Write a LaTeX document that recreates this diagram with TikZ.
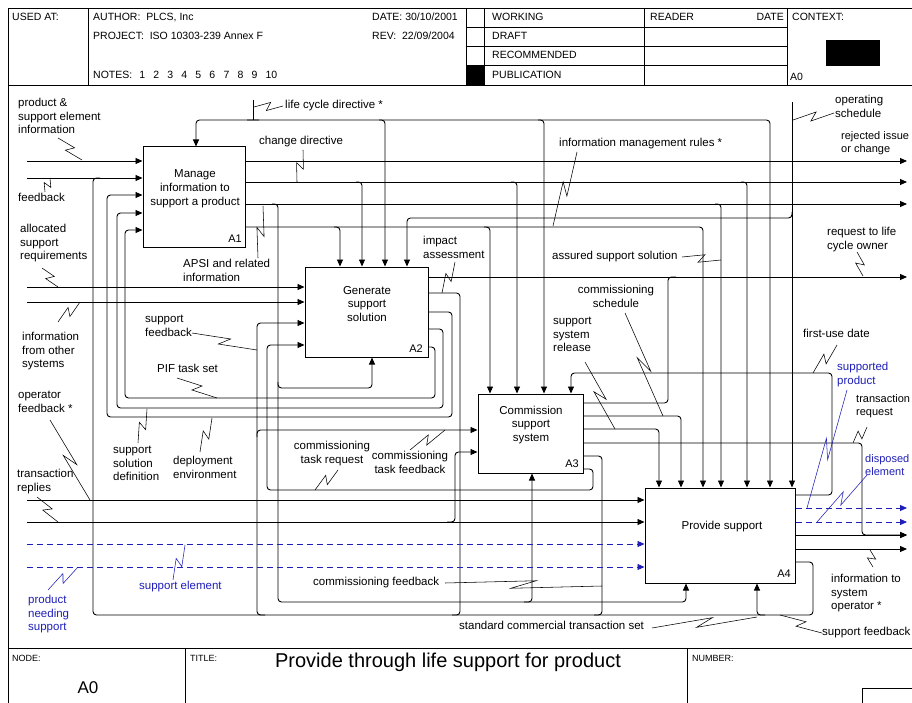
\documentclass[tikz,border=0pt]{standalone}
\usepackage{fontspec}
\setmainfont{Liberation Sans}
\usetikzlibrary{arrows.meta,calc}
\definecolor{idefblue}{rgb}{0.12,0.12,0.72}
\newcommand\sqz[3][black]{\draw[squig,draw=#1] (#2) -- ($(#2)!0.58!(#3)!4pt!90:(#3)$) -- ($(#2)!0.42!(#3)!4pt!-90:(#3)$) -- (#3);}
\begin{document}
\begin{tikzpicture}[x=1pt,y=-1pt,
  frame/.style={line width=0.9pt},
  box/.style={draw, line width=1pt, inner sep=0pt, fill=white},
  flow/.style={draw, line width=0.9pt, rounded corners=3.5pt},
  arr/.style={flow, -{Triangle[length=7pt,width=6pt]}},
  bflow/.style={draw=idefblue, line width=0.9pt, dash pattern=on 6pt off 4pt},
  barr/.style={bflow, -{Triangle[length=7pt,width=6pt,fill=idefblue]}},
  squig/.style={line width=0.55pt},
  lbl/.style={font=\fontsize{11.5}{13.6}\selectfont, align=left, inner sep=0pt, anchor=north west},
  clbl/.style={lbl, align=center, anchor=north},
  blbl/.style={lbl, text=idefblue},
  hdr/.style={font=\fontsize{10.5}{12}\selectfont, inner sep=0pt, anchor=base west},
  ftr/.style={font=\fontsize{9}{11}\selectfont, inner sep=0pt, anchor=base west},
  boxtxt/.style={font=\fontsize{11.5}{13.8}\selectfont, align=center, inner sep=0pt},
  boxid/.style={font=\fontsize{11}{13}\selectfont, inner sep=0pt}
]
\useasboundingbox (0,0) rectangle (912,703);
\fill[white] (0,0) rectangle (912,703);
% ---------- frame ----------
\draw[frame] (8,706) -- (8,8) -- (915,8);
\draw[frame] (8,85) -- (915,85);
\draw[frame] (8,648) -- (915,648);
\foreach \x in {88,466,484,644,787} \draw[frame] (\x,8) -- (\x,85);
\foreach \y in {27,46,65} \draw[frame] (466,\y) -- (787,\y);
\fill (466,65) rectangle (484,85);
\fill (826,40) rectangle (880,66);
\draw[frame] (185,648) -- (185,706);
\draw[frame] (687,648) -- (687,706);
\draw[frame] (862,706) -- (862,688) -- (915,688);
% ---------- header text ----------
\node[hdr] (h1) at (12,21) {USED AT:};
\node[hdr] (h2) at (93,21) {AUTHOR:\ \ PLCS, Inc};
\node[hdr] (h3) at (93,40) {PROJECT:\ \ ISO 10303-239 Annex F};
\node[hdr] (h4) at (93,79) {NOTES:\hspace{7pt}1\hspace{8.2pt}2\hspace{8.2pt}3\hspace{8.2pt}4\hspace{8.2pt}5\hspace{8.2pt}6\hspace{8.2pt}7\hspace{8.2pt}8\hspace{8.2pt}9\hspace{8.2pt}10};
\node[hdr] (h5) at (372,21) {DATE: 30/10/2001};
\node[hdr] (h6) at (372,40) {REV:\ \ 22/09/2004};
\node[hdr] (h7) at (492,21) {WORKING};
\node[hdr] (h8) at (492,40) {DRAFT};
\node[hdr] (h9) at (492,59) {RECOMMENDED};
\node[hdr] (h10) at (492,79) {PUBLICATION};
\node[hdr] (h11) at (650,21) {READER};
\node[hdr, anchor=base east] (h12) at (784,21) {DATE};
\node[hdr] (h13) at (792,21) {CONTEXT:};
\node[hdr] (h14) at (790,81) {A0};
% ---------- footer text ----------
\node[ftr] (f1) at (12,661) {NODE:};
\node[ftr] (f2) at (190,661) {TITLE:};
\node[ftr] (f3) at (692,661) {NUMBER:};
\node[font=\fontsize{17}{20}\selectfont, inner sep=0pt] (f4) at (88,688) {A0};
\node[font=\fontsize{20}{24}\selectfont, inner sep=0pt] (f5) at (448,662) {Provide through life support for product};
% ---------- boxes ----------
\node[box, minimum width=102pt, minimum height=101pt] (A1) at (194,197.5) {};
\node[box, minimum width=123pt, minimum height=90pt] (A2) at (366.5,312) {};
\node[box, minimum width=105pt, minimum height=79pt] (A3) at (530.5,433.5) {};
\node[box, minimum width=150pt, minimum height=95pt] (A4) at (720,535.5) {};
\node[boxtxt] (A1t) at (195,189) {Manage\\information to\\support a product};
\node[boxtxt] (A2t) at (367,304) {Generate\\support\\solution};
\node[boxtxt] (A3t) at (531,425) {Commission\\support\\system};
\node[boxtxt] (A4t) at (722,527) {Provide support};
\node[boxid] (A1n) at (235,239) {A1};
\node[boxid] (A2n) at (416,349) {A2};
\node[boxid] (A3n) at (572,464) {A3};
\node[boxid] (A4n) at (784,574) {A4};
% ---------- flows ----------
% A1 inputs
\draw[arr] (27,161) -- (A1.west |- 0,161);
\draw[arr] (27,178) -- (A1.west |- 0,178);
% support feedback loop and joins
\draw[flow] (A4.east |- 0,562) -| (813,615) -| (93,178) -- (100,178);
\draw[flow] (A2.east |- 0,293) -| (460,615) -- (452,615);
\draw[flow] (A3.east |- 0,456) -| (602,615) -- (594,615);
\draw[arr] (265,615) -| (257,323) -- (A2.west |- 0,323);
\draw[arr] (257,437) |- (A3.west |- 0,430);
\draw[arr] (765,615) -| (A4.south -| 757,0);
% A2 -> A1 loops
\draw[arr] (A2.east |- 0,312) -| (452,417) -| (107,195) -- (A1.west |- 0,195);
\draw[arr] (A2.east |- 0,329) -| (443,408) -| (117,213) -- (A1.west |- 0,213);
\draw[arr] (A2.east |- 0,347) -| (435,398) -| (125,230) -- (A1.west |- 0,230);
% A2 inputs
\draw[arr] (27,287) -- (A2.west |- 0,287);
\draw[arr] (27,302) -- (A2.west |- 0,302);
\draw[arr] (A3.east |- 0,469) -| (593,490) -| (267,345) -- (A2.west |- 0,345);
% A1 outputs
\draw[arr] (A1.east |- 0,161) -- (907,161);
\draw[arr] (A1.east |- 0,182) -- (907,182);
\draw[arr] (A1.east |- 0,204) -- (907,204);
\draw[arr] (A1.east |- 0,227) -| (A4.north -| 703,0);
\draw[arr] (356,182) -| (A2.north -| 362,0);
\draw[arr] (511,182) -| (A3.north -| 517,0);
\draw[arr] (741,182) -| (A4.north -| 747,0);
\draw[arr] (715,204) -| (A4.north -| 721,0);
\draw[arr] (334,227) -| (A2.north -| 340,0);
\draw[arr] (484,227) -| (A3.north -| 490,0);
% life cycle directive
\draw[flow] (253,100) -- (253,120);
\draw[arr] (259,120) -| (A1.north -| 196,0);
\draw[arr] (247,120) -| (A4.north -| 770,0);
\draw[arr] (379,120) -| (A2.north -| 385,0);
\draw[arr] (538,120) -| (A3.north -| 544,0);
% operating schedule
\draw[arr] (792,102) -- (A4.north -| 792,0);
\draw[arr] (792,212) |- (407,218) -- (A2.north -| 407,0);
% APSI mechanism
\draw[arr] (272,204) -| (278,602) -| (A4.south -| 686,0);
\draw[arr] (278,382) |- (372,388) -- (A2.south -| 372,0);
\draw[arr] (524,602) -| (A3.south -| 532,0);
% A2 output to right
\draw[arr] (A2.east |- 0,277) -- (907,277);
% A3 outputs
\draw[flow] (A3.east |- 0,403) -| (668,277) -- (676,277);
\draw[arr] (A3.east |- 0,416) -| (A4.north -| 681,0);
\draw[arr] (A3.east |- 0,429) -| (A4.north -| 659,0);
\draw[arr] (A3.east |- 0,443) -| (862,535) -- (907,535);
% A4 inputs
\draw[arr] (27,500) -- (A4.west |- 0,500);
\draw[arr] (27,522) -- (A4.west |- 0,522);
\draw[arr] (447,522) -| (455,452) -- (A3.west |- 0,452);
\draw[barr] (27,544) -- (A4.west |- 0,544);
\draw[barr] (27,567) -- (A4.west |- 0,567);
% A4 outputs
\draw[arr] (A4.east |- 0,495) -| (832,373) -| (A3.north -| 571,0);
\draw[barr] (A4.east |- 0,508) -- (907,508);
\draw[barr] (A4.east |- 0,522) -- (907,522);
\draw[arr] (A4.east |- 0,535) -- (907,535);
\draw[arr] (A4.east |- 0,549) -- (907,549);
% ---------- labels ----------
\node[lbl] (l1) at (18,98) {product \&\\support element\\information};
\node[lbl] (l2) at (18,193) {feedback};
\node[lbl] (l3) at (20,224) {allocated\\support\\requirements};
\node[lbl] (l4) at (22,332) {information\\from other\\systems};
\node[lbl] (l5) at (18,391) {operator\\feedback *};
\node[lbl] (l6) at (17,469) {transaction\\replies};
\node[blbl] (l7) at (28,595) {product\\needing\\support};
\node[blbl] (l8) at (139,581) {support element};
\node[lbl] (l9) at (145,315) {support\\feedback};
\node[lbl] (l10) at (157,364) {PIF task set};
\node[lbl] (l11) at (113,446) {support\\solution\\definition};
\node[lbl] (l12) at (173,456) {deployment\\environment};
\node[lbl] (l13) at (183,259) {APSI and related\\information};
\node[lbl] (l14) at (259,136) {change directive};
\node[lbl] (l15) at (285,100) {life cycle directive *};
\node[lbl] (l16) at (559,138) {information management rules *};
\node[lbl] (l17) at (423,236) {impact\\assessment};
\node[lbl] (l18) at (552,251) {assured support solution};
\node[clbl] (l19) at (616,285) {commissioning\\schedule};
\node[lbl] (l20) at (553,317) {support\\system\\release};
\node[clbl] (l21) at (332,441) {commissioning\\task request};
\node[clbl] (l22) at (410,451) {commissioning\\task feedback};
\node[lbl] (l23) at (313,577) {commissioning feedback};
\node[lbl] (l24) at (459,621) {standard commercial transaction set};
\node[lbl] (l25) at (835,95) {operating\\schedule};
\node[lbl, font=\fontsize{11}{13.6}\selectfont] (l26) at (841,131) {rejected issue\\or change};
\node[lbl] (l27) at (827,227) {request to life\\cycle owner};
\node[lbl] (l28) at (803,329) {first-use date};
\node[blbl] (l29) at (837,362) {supported\\product};
\node[lbl, font=\fontsize{11}{13.6}\selectfont] (l30) at (856,394) {transaction\\request};
\node[blbl, font=\fontsize{11}{13.6}\selectfont] (l31) at (865,454) {disposed\\element};
\node[lbl] (l32) at (831,574) {information to\\system\\operator *};
\node[lbl] (l33) at (822,627) {support feedback};
% ---------- squiggles ----------
\sqz{58,138}{82,160}
\sqz{45,192}{50,178}
\sqz{42,268}{58,287}
\sqz{58,322}{80,302}
\sqz{50,420}{90,500}
\sqz{37,497}{58,522}
\sqz[idefblue]{48,590}{78,567}
\sqz[idefblue]{173,580}{185,545}
\sqz{192,333}{257,350}
\sqz{177,378}{217,398}
\sqz{138,443}{147,409}
\sqz{200,452}{212,418}
\sqz{258,258}{263,206}
\sqz{303,150}{297,182}
\sqz{254,107}{283,106}
\sqz{577,152}{553,226}
\sqz{455,262}{442,293}
\sqz{682,257}{721,260}
\sqz{857,252}{863,276}
\sqz{793,120}{834,113}
\sqz{625,313}{663,416}
\sqz{585,362}{615,429}
\sqz{338,470}{315,490}
\sqz{410,450}{445,430}
\sqz{445,583}{602,586}
\sqz{652,628}{757,617}
\sqz{780,615}{822,633}
\sqz{873,567}{870,550}
\sqz{837,345}{813,373}
\sqz[idefblue]{847,390}{807,508}
\sqz{867,427}{853,443}
\sqz[idefblue]{867,475}{817,522}
\end{tikzpicture}
\end{document}
